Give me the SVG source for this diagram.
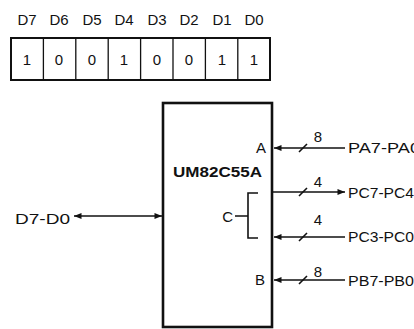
<svg xmlns="http://www.w3.org/2000/svg" width="414" height="329" viewBox="0 0 414 329">
<defs>
<style>
text{font-family:"Liberation Sans","DejaVu Sans",sans-serif;font-size:15px;fill:#111}
.lbl{text-anchor:middle}
.ln{stroke:#111;stroke-width:1.6;fill:none}
.box{stroke:#111;stroke-width:2.6;fill:#fff}
.cell{stroke:#111;stroke-width:1.3;fill:none}
</style>
<marker id="ah" viewBox="0 0 10 8" refX="10" refY="4" markerWidth="8" markerHeight="6" markerUnits="userSpaceOnUse" orient="auto-start-reverse">
<path d="M0,0 L10,4 L0,8 Z" fill="#111"/>
</marker>
</defs>
<rect width="414" height="329" fill="#fff"/>
<g id="register">
<text class="lbl" x="27" y="25">D7</text>
<text class="lbl" x="59" y="25">D6</text>
<text class="lbl" x="92" y="25">D5</text>
<text class="lbl" x="124" y="25">D4</text>
<text class="lbl" x="157" y="25">D3</text>
<text class="lbl" x="189" y="25">D2</text>
<text class="lbl" x="222" y="25">D1</text>
<text class="lbl" x="254" y="25">D0</text>
<rect x="11" y="38" width="259" height="42" fill="none" stroke="#111" stroke-width="2"/>
<path class="cell" d="M43.4,38V80M75.8,38V80M108.2,38V80M140.6,38V80M173,38V80M205.4,38V80M237.8,38V80"/>
<text class="lbl" x="27" y="65">1</text>
<text class="lbl" x="59" y="65">0</text>
<text class="lbl" x="92" y="65">0</text>
<text class="lbl" x="124" y="65">1</text>
<text class="lbl" x="157" y="65">0</text>
<text class="lbl" x="189" y="65">0</text>
<text class="lbl" x="222" y="65">1</text>
<text class="lbl" x="254" y="65">1</text>
</g>
<g id="chip">
<rect class="box" x="163" y="103" width="109" height="224"/>
<text x="173" y="177" font-weight="bold" textLength="89" lengthAdjust="spacingAndGlyphs">UM82C55A</text>
<text x="266" y="153" text-anchor="end">A</text>
<text x="265" y="285" text-anchor="end">B</text>
<text x="233" y="222" text-anchor="end">C</text>
<path class="ln" d="M258,193H248V238H258M235,216H248"/>
</g>
<g id="labels">
<text x="15" y="224" textLength="55" lengthAdjust="spacingAndGlyphs">D7-D0</text>
<text x="348" y="153" textLength="72" lengthAdjust="spacingAndGlyphs">PA7-PA0</text>
<text x="348" y="198" textLength="66" lengthAdjust="spacingAndGlyphs">PC7-PC4</text>
<text x="348" y="242" textLength="66" lengthAdjust="spacingAndGlyphs">PC3-PC0</text>
<text x="348" y="286" textLength="66" lengthAdjust="spacingAndGlyphs">PB7-PB0</text>
<text class="lbl" x="318" y="142">8</text>
<text class="lbl" x="318" y="187">4</text>
<text class="lbl" x="318" y="225">4</text>
<text class="lbl" x="318" y="277">8</text>
</g>
<g id="connectors">
<path class="ln" d="M345,148H274" marker-end="url(#ah)"/>
<path class="ln" d="M273,192H345" marker-end="url(#ah)"/>
<path class="ln" d="M345,237H274" marker-end="url(#ah)"/>
<path class="ln" d="M345,280H274" marker-end="url(#ah)"/>
<path class="ln" d="M74,216H162" marker-start="url(#ah)" marker-end="url(#ah)"/>
<path class="ln" d="M299,152L307,144M299,196L307,188M299,241L307,233M299,284L307,276"/>
</g>
</svg>
